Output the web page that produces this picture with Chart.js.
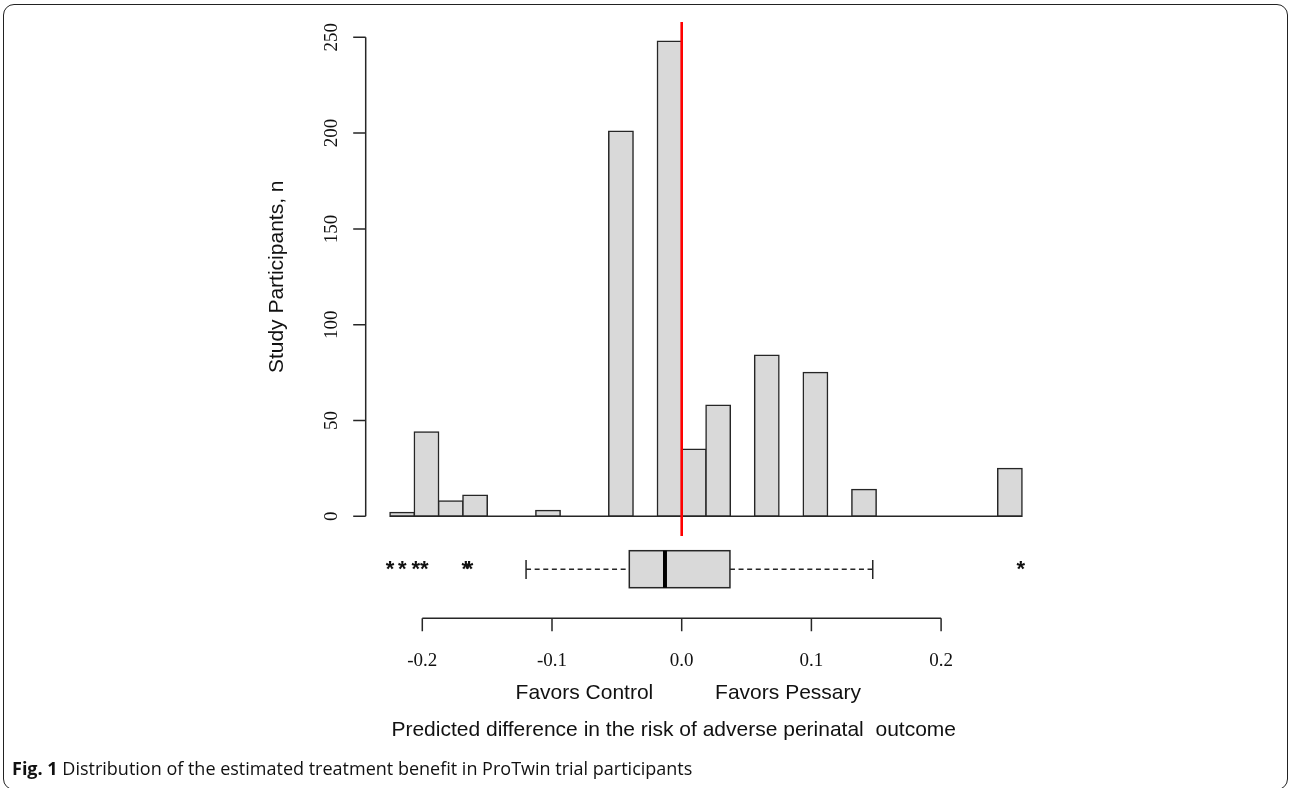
<!DOCTYPE html>
<html>
<head>
<meta charset="utf-8">
<script src="https://cdn.jsdelivr.net/npm/chart.js@4/dist/chart.umd.min.js"></script>
<style>
  html, body { margin: 0; padding: 0; background: #fff; }
  #wrap { position: relative; width: 1290px; height: 788px; overflow: hidden; }
  #frame {
    position: absolute; left: 3px; top: 4px; width: 1285px; height: 786px;
    border: 1.5px solid #222; border-radius: 11px; box-sizing: border-box;
  }
  #caption {
    position: absolute; left: 12px; top: 755px; line-height: 26px;
    font-family: "Open Sans", sans-serif; font-size: 18px; color: #111; white-space: nowrap;
  }
  #caption b { font-weight: 700; }
  canvas { position: absolute; left: 0; top: 0; }
</style>
</head>
<body>
<div id="wrap">
  <div id="frame"></div>
  <canvas id="chart" width="1290" height="788"></canvas>
  <div id="caption"><b>Fig. 1</b> Distribution of the estimated treatment benefit in ProTwin trial participants</div>
</div>
<script>
  // Histogram bins
  var binStart = -0.2249;
  var binWidth = 0.018742;
  var counts = [2, 44, 8, 11, 0, 0, 3, 0, 0, 201, 0, 248, 35, 58, 0, 84, 0, 75, 0, 14, 0, 0, 0, 0, 0, 25];

  // Boxplot: lower whisker, Q1, median, Q3, upper whisker
  var boxStats = [-0.120, -0.0404, -0.0129, 0.0372, 0.1473];
  var outliers = [-0.2249, -0.2154, -0.2051, -0.1985, -0.1665, -0.1640, 0.2614];

  // Axes
  var yTicks = [0, 50, 100, 150, 200, 250];
  var xTicks = [-0.2, -0.1, 0.0, 0.1, 0.2];
  var xTickLabels = ['-0.2', '-0.1', '0.0', '0.1', '0.2'];
  var yTitle = 'Study Participants, n';
  var xTitle = 'Predicted difference in the risk of adverse perinatal  outcome';
  var sideLabels = ['Favors Control', 'Favors Pessary'];
  var sideLabelAt = [-0.075, 0.082];

  // Reference line at zero
  var refLineX = 0;
  var refLineY = [-10.3, 258];

  var barData = counts.map(function(c, i) {
    return { x: binStart + (i + 0.5) * binWidth, y: c };
  });
  var binEnd = binStart + counts.length * binWidth;

  var SERIF = '"Liberation Serif", "Times New Roman", serif';
  var SANS = '"Liberation Sans", Arial, sans-serif';
  var INK = '#262626';

  /**
   * R-style axes, boxplot and axis titles, drawn from the chart scales
   */
  var decorations = {
    id: 'decorations',
    afterDraw: function(chart) {
      var ctx = chart.ctx;
      var xs = chart.scales.x;
      var ys = chart.scales.y;
      var axisX = 365.7;

      ctx.save();
      ctx.strokeStyle = INK;
      ctx.fillStyle = '#111';
      ctx.lineWidth = 1.5;

      // y axis
      ctx.beginPath();
      ctx.moveTo(axisX, ys.getPixelForValue(yTicks[0]));
      ctx.lineTo(axisX, ys.getPixelForValue(yTicks[yTicks.length - 1]));
      yTicks.forEach(function(t) {
        var py = ys.getPixelForValue(t);
        ctx.moveTo(axisX, py);
        ctx.lineTo(axisX - 12.5, py);
      });
      ctx.stroke();

      ctx.font = '19px ' + SERIF;
      ctx.textAlign = 'center';
      ctx.textBaseline = 'middle';
      yTicks.forEach(function(t) {
        var py = ys.getPixelForValue(t);
        ctx.save();
        ctx.translate(332, py);
        ctx.rotate(-Math.PI / 2);
        ctx.fillText(String(t), 0, 0);
        ctx.restore();
      });

      ctx.font = '21px ' + SANS;
      ctx.save();
      ctx.translate(277, (ys.top + ys.bottom) / 2);
      ctx.rotate(-Math.PI / 2);
      ctx.fillText(yTitle, 0, 0);
      ctx.restore();

      // boxplot
      var boxTop = 550.7, boxBottom = 587.7, mid = 569.2;
      var p = boxStats.map(function(v) { return xs.getPixelForValue(v); });
      ctx.setLineDash([5, 3.6]);
      ctx.beginPath();
      ctx.moveTo(p[0], mid); ctx.lineTo(p[1], mid);
      ctx.moveTo(p[3], mid); ctx.lineTo(p[4], mid);
      ctx.stroke();
      ctx.setLineDash([]);
      ctx.beginPath();
      ctx.moveTo(p[0], 560); ctx.lineTo(p[0], 579);
      ctx.moveTo(p[4], 560); ctx.lineTo(p[4], 579);
      ctx.stroke();
      ctx.fillStyle = '#d9d9d9';
      ctx.fillRect(p[1], boxTop, p[3] - p[1], boxBottom - boxTop);
      ctx.strokeRect(p[1], boxTop, p[3] - p[1], boxBottom - boxTop);
      ctx.lineWidth = 4;
      ctx.strokeStyle = '#000';
      ctx.beginPath();
      ctx.moveTo(p[2], boxTop); ctx.lineTo(p[2], boxBottom);
      ctx.stroke();

      // outliers
      ctx.fillStyle = '#111';
      ctx.font = 'bold 22px ' + SANS;
      var m = ctx.measureText('*');
      var starShift = (m.actualBoundingBoxAscent - m.actualBoundingBoxDescent) / 2;
      ctx.textBaseline = 'alphabetic';
      outliers.forEach(function(v) {
        ctx.fillText('*', xs.getPixelForValue(v), 572 + starShift);
      });

      // x axis
      var axisY = 618.3;
      ctx.strokeStyle = INK;
      ctx.lineWidth = 1.5;
      ctx.beginPath();
      ctx.moveTo(xs.getPixelForValue(xTicks[0]), axisY);
      ctx.lineTo(xs.getPixelForValue(xTicks[xTicks.length - 1]), axisY);
      xTicks.forEach(function(t) {
        var px = xs.getPixelForValue(t);
        ctx.moveTo(px, axisY);
        ctx.lineTo(px, axisY + 13);
      });
      ctx.stroke();

      ctx.textBaseline = 'middle';
      ctx.font = '19px ' + SERIF;
      xTicks.forEach(function(t, i) {
        ctx.fillText(xTickLabels[i], xs.getPixelForValue(t), 661);
      });

      ctx.font = '21px ' + SANS;
      sideLabels.forEach(function(s, i) {
        ctx.fillText(s, xs.getPixelForValue(sideLabelAt[i]), 693);
      });
      ctx.fillText(xTitle, xs.getPixelForValue(0) - 8, 730);

      ctx.restore();
    }
  };

  var ctx = document.getElementById('chart');
  new Chart(ctx, {
    type: 'bar',
    data: {
      datasets: [
        {
          type: 'line',
          data: [{ x: refLineX, y: refLineY[0] }, { x: refLineX, y: refLineY[1] }],
          borderColor: '#ff0000',
          borderWidth: 2.6,
          pointRadius: 0,
          clip: false,
          order: 0
        },
        {
          type: 'line',
          data: [{ x: binStart, y: 0 }, { x: binEnd, y: 0 }],
          borderColor: INK,
          borderWidth: 1.5,
          pointRadius: 0,
          clip: false,
          order: 1
        },
        {
          data: barData,
          backgroundColor: '#d9d9d9',
          borderColor: INK,
          borderWidth: 1.5,
          borderSkipped: false,
          inflateAmount: 0.75,
          barPercentage: 1,
          categoryPercentage: 1,
          clip: false,
          order: 2
        }
      ]
    },
    options: {
      responsive: false,
      animation: false,
      events: [],
      layout: {
        padding: { left: 357.45, right: 219.2, top: 37.3, bottom: 271.7 }
      },
      plugins: {
        legend: { display: false },
        tooltip: { enabled: false }
      },
      scales: {
        x: {
          type: 'linear',
          min: -0.25,
          max: 0.3,
          offset: false,
          display: false,
          ticks: { stepSize: 0.1 }
        },
        y: {
          type: 'linear',
          min: 0,
          max: 250,
          display: false,
          ticks: { stepSize: 50 }
        }
      }
    },
    plugins: [decorations]
  });
</script>
</body>
</html>
